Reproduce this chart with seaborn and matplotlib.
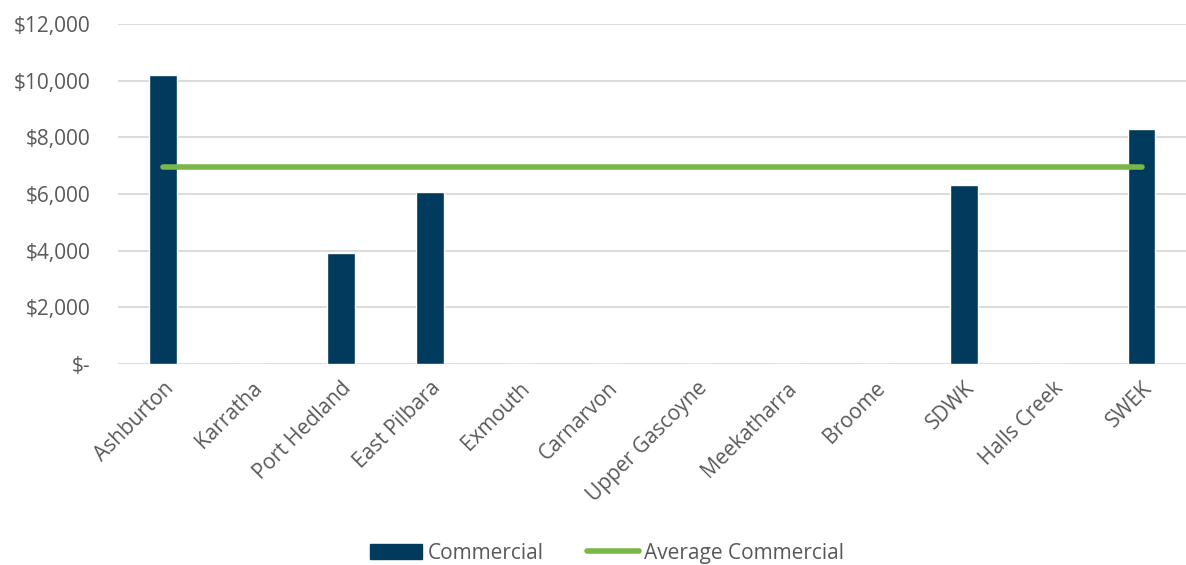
import matplotlib
matplotlib.use("Agg")
import matplotlib.pyplot as plt
from matplotlib.patches import Patch
from matplotlib.lines import Line2D
from matplotlib.ticker import FuncFormatter, MultipleLocator
import numpy as np
import pandas as pd
import seaborn as sns

regions = ["Ashburton", "Karratha", "Port Hedland", "East Pilbara", "Exmouth",
           "Carnarvon", "Upper Gascoyne", "Meekatharra", "Broome", "SDWK",
           "Halls Creek", "SWEK"]
commercial = [10200, 0, 3900, 6080, 0, 0, 0, 0, 0, 6330, 0, 8290]
average_commercial = [6960] * len(regions)

BAR = "#003A5D"
LINE = "#7AB648"
TEXT = "#595959"
GRID = "#D9D9D9"
FS = 15

sns.set_theme(style="white")
plt.rcParams["font.family"] = ["Open Sans", "DejaVu Sans"]

df = pd.DataFrame({"region": regions, "commercial": commercial,
                   "average": average_commercial})

fig = plt.figure(figsize=(11.86, 5.65), dpi=100)
ax = fig.add_axes([0.0999, 0.356, 0.9001, 0.6015])

sns.barplot(data=df, x="region", y="commercial", color=BAR, width=0.314,
            saturation=1, ax=ax, zorder=2)
sns.lineplot(x=np.arange(len(regions)), y=df["average"], color=LINE,
             linewidth=4, ax=ax, zorder=3, solid_capstyle="round")

ax.set_xlim(-0.5, len(regions) - 0.5)
ax.set_ylim(0, 12000)
ax.yaxis.set_major_locator(MultipleLocator(2000))
ax.yaxis.set_major_formatter(
    FuncFormatter(lambda v, p: "$-" if v == 0 else f"${v:,.0f}"))
ax.grid(axis="y", color=GRID, linewidth=1.3, zorder=0)
ax.set_axisbelow(True)
for s in ax.spines.values():
    s.set_visible(False)
ax.set_xlabel("")
ax.set_ylabel("")
ax.tick_params(axis="both", length=0, colors=TEXT, labelsize=FS)
ax.tick_params(axis="y", pad=20)
ax.set_xticks(range(len(regions)))
ax.set_xticklabels(regions, rotation=45, ha="right", rotation_mode="anchor",
                   color=TEXT, fontsize=FS)
ax.tick_params(axis="x", pad=10)

handles = [Patch(facecolor=BAR, edgecolor=BAR),
           Line2D([0], [0], color=LINE, linewidth=4, solid_capstyle="round")]
fig.legend(handles, ["Commercial", "Average Commercial"], loc="center",
           bbox_to_anchor=(0.512, 0.021), ncol=2, frameon=False, fontsize=FS,
           labelcolor=TEXT, handlelength=2.5, handleheight=0.7,
           handletextpad=0.25, columnspacing=2.1, borderpad=0.2)

fig.savefig("out.png", dpi=100)
